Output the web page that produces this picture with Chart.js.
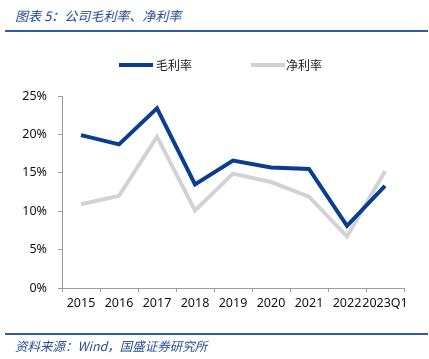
<!DOCTYPE html>
<html><head><meta charset="utf-8">
<script src="https://cdn.jsdelivr.net/npm/chart.js@4/dist/chart.umd.min.js"></script>
<style>
html,body{margin:0;padding:0;background:#fff;}
#wrap{position:relative;width:429px;height:359px;overflow:hidden;font-family:"Noto Sans CJK SC","Noto Sans",sans-serif;}
#title{position:absolute;left:15px;top:6px;font-size:13px;font-style:italic;color:#1f4a96;white-space:nowrap;}
.rule{position:absolute;left:5px;width:423px;height:2px;background:#2f5ca8;}
#foot{position:absolute;left:15px;top:336px;font-size:12.5px;font-style:italic;color:#2a4f95;white-space:nowrap;}
#c{position:absolute;left:0;top:0;}
#legend{position:absolute;top:56px;left:0;width:429px;height:18px;}
.li{position:absolute;top:0;height:18px;font-size:12px;color:#222;line-height:18px;white-space:nowrap;}
.sw{position:absolute;top:7px;height:4px;}
</style></head>
<body><div id="wrap">
<div id="title">图表 5：公司毛利率、净利率</div>
<div class="rule" style="top:30px"></div>
<canvas id="c" width="429" height="359"></canvas>
<div id="legend"></div>
<div class="rule" style="top:333px"></div>
<div id="foot">资料来源：Wind，国盛证券研究所</div>
</div>
<script>
const categories = ["2015","2016","2017","2018","2019","2020","2021","2022","2023Q1"];
const grossMargin = [19.9, 18.7, 23.4, 13.5, 16.6, 15.7, 15.5, 8.1, 13.3];
const netMargin = [10.9, 12.0, 19.7, 10.1, 14.9, 13.8, 11.9, 6.7, 15.2];
const seriesNames = ["毛利率","净利率"];
const yTicks = [0,5,10,15,20,25];

const blue = "#0a3d91", grey = "#d2d2d2", axis = "#9a9a9a";
const tickFont = {family:"'Noto Sans', sans-serif", size:12.5};

const chart = new Chart(document.getElementById('c'), {
  type:'line',
  data:{labels:categories, datasets:[
    {label:seriesNames[0], data:grossMargin, borderColor:blue, backgroundColor:blue, borderWidth:4, pointRadius:0, tension:0, borderJoinStyle:'miter'},
    {label:seriesNames[1], data:netMargin, borderColor:grey, backgroundColor:grey, borderWidth:4, pointRadius:0, tension:0, borderJoinStyle:'miter'}
  ]},
  options:{
    responsive:false, animation:false, devicePixelRatio:1,
    layout:{padding:{left:0,right:25,top:96,bottom:41}},
    plugins:{legend:{display:false}, tooltip:{enabled:false}},
    scales:{
      x:{offset:true,
         grid:{offset:true,drawOnChartArea:false,drawTicks:true,tickLength:4,color:axis},
         border:{display:true,color:axis,width:1},
         ticks:{color:'#111',font:tickFont,padding:4,maxRotation:0,autoSkip:false},
         afterFit(s){s.height=30;}},
      y:{min:0,max:25,
         afterBuildTicks(s){s.ticks=yTicks.map(v=>({value:v}));},
         grid:{drawOnChartArea:false,drawTicks:true,tickLength:4,color:axis},
         border:{display:true,color:axis,width:1},
         ticks:{color:'#111',font:tickFont,padding:11,callback:v=>v+'%'},
         afterFit(s){s.width=62;}}
    }
  }
});

// HTML legend built from the datasets
const lg = document.getElementById('legend');
const pos = [{sw:119,tx:156},{sw:251,tx:286}];
chart.data.datasets.forEach((d,i)=>{
  const s=document.createElement('div'); s.className='sw';
  s.style.left=pos[i].sw+'px'; s.style.width='34px'; s.style.background=d.borderColor;
  lg.appendChild(s);
  const t=document.createElement('div'); t.className='li';
  t.style.left=pos[i].tx+'px'; t.textContent=d.label; lg.appendChild(t);
});
</script>
</body></html>
